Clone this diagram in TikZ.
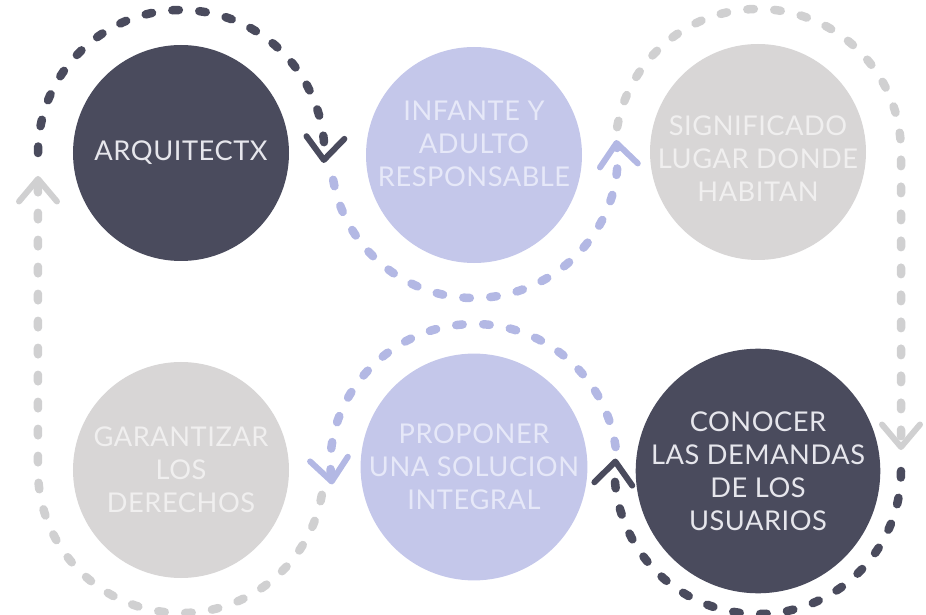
\documentclass[tikz,border=0pt]{standalone}
\usepackage{fontspec}
\setmainfont{Lato}
\usetikzlibrary{arrows.meta,calc}

\definecolor{darkc}{HTML}{4A4B5D}
\definecolor{lavc}{HTML}{C4C7EA}
\definecolor{lavd}{HTML}{B3B8E4}
\definecolor{grayc}{HTML}{D8D6D6}
\definecolor{grayd}{HTML}{D0D0D1}
\definecolor{darktext}{HTML}{E6E6EC}
\definecolor{lavtext}{HTML}{E6E8F8}
\definecolor{graytext}{HTML}{F0EFEF}

\tikzset{
  stage/.style={circle, minimum size=4.32cm, inner sep=0pt, align=center,
    font=\fontsize{15.5}{18.8}\selectfont\addfontfeatures{LetterSpace=2}},
  darkstage/.style={stage, fill=darkc, text=darktext},
  lavstage/.style={stage, fill=lavc, text=lavtext},
  graystage/.style={stage, fill=grayc, text=graytext},
  ring/.style={line width=0.17cm, dash pattern=on 0.13cm off 0.41cm, line cap=round,
    -{Straight Barb[round, length=0.45cm, width=0.76cm, line width=0.12cm]}}
}

\begin{document}
\begin{tikzpicture}
\useasboundingbox (0,0) rectangle (18.52,-12.30);

% circles
\node[darkstage] (arq) at (3.62,-3.06) {ARQUITECTX};
\node[lavstage, text depth=0.45cm, inner sep=-0.3cm] (inf) at (9.48,-3.10) {INFANTE Y\\ADULTO\\RESPONSABLE};
\node[graystage, text height=2.0cm, inner sep=-0.3cm] (sig) at (15.16,-3.04) {SIGNIFICADO\\LUGAR DONDE\\HABITAN};
\node[graystage] (gar) at (3.62,-9.40) {GARANTIZAR\\LOS\\DERECHOS};
\node[lavstage] (pro) at (9.48,-9.34) {PROPONER\\UNA SOLUCION\\INTEGRAL};
\node[darkstage] (con) at (15.16,-9.42) {CONOCER\\LAS DEMANDAS\\DE LOS\\USUARIOS};

% dashed loops
\draw[ring, darkc] ($(arq.center)+(180:2.86)$) arc[start angle=180, end angle=-4, radius=2.86];
\draw[ring, lavd] ($(inf.center)+(190:2.86)$) arc[start angle=190, end angle=366, radius=2.86];
\draw[ring, grayd] ($(sig.center)+(170:2.86)$) arc[start angle=170, end angle=0, radius=2.86]
  -- ($(con.center)+(2.86,0.42)$);
\draw[ring, darkc] ($(con.center)+(0:2.86)$) arc[start angle=0, end angle=-185, radius=2.86];
\draw[ring, lavd] ($(pro.center)+(8:2.86)$) arc[start angle=8, end angle=187, radius=2.86];
\draw[ring, grayd] ($(gar.center)+(-10:2.86)$) arc[start angle=-10, end angle=-180, radius=2.86]
  -- ($(arq.center)+(-2.86,-0.46)$);
\end{tikzpicture}
\end{document}
